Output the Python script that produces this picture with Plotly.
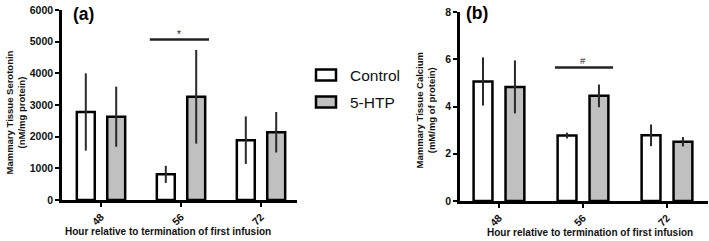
import plotly.graph_objects as go

# ---------------- data ----------------
hours = ["48", "56", "72"]
series_names = ["Control", "5-HTP"]

serotonin_control = [2780, 810, 1890]
serotonin_control_err = [1220, 270, 750]
serotonin_htp = [2630, 3260, 2140]
serotonin_htp_err = [950, 1480, 640]

calcium_control = [5.06, 2.77, 2.78]
calcium_control_err = [1.02, 0.12, 0.46]
calcium_htp = [4.83, 4.45, 2.51]
calcium_htp_err = [1.12, 0.48, 0.20]

serotonin_ticks = [0, 1000, 2000, 3000, 4000, 5000, 6000]
calcium_ticks = [0, 2, 4, 6, 8]

# ---------------- style ----------------
W, H = 709, 241
FILL = {"Control": "white", "5-HTP": "#c0c0c0"}
FONT = "Liberation Sans, Arial, Helvetica, sans-serif"


def px(x):
    return x / W


def py(y):
    return 1 - y / H


fig = go.Figure()

panels = [
    ("x", "y", [serotonin_control, serotonin_htp], [serotonin_control_err, serotonin_htp_err]),
    ("x2", "y2", [calcium_control, calcium_htp], [calcium_control_err, calcium_htp_err]),
]

for xa, ya, vals, errs in panels:
    for name, v, e in zip(series_names, vals, errs):
        fig.add_trace(go.Bar(
            x=hours, y=v, name=name, xaxis=xa, yaxis=ya,
            marker=dict(color=FILL[name], line=dict(color="black", width=2.5)),
            error_y=dict(type="data", array=e, visible=True, color="#2a2a2a",
                         thickness=2, width=0),
            showlegend=False,
        ))

axis_common = dict(
    showline=True, linecolor="black", linewidth=2.5, ticks="outside",
    ticklen=4, tickwidth=2, tickcolor="black", showgrid=False, zeroline=False,
    automargin=False,
    tickfont=dict(family=FONT, size=10.5, color="#111", weight="bold"),
)

fig.update_layout(
    width=W, height=H,
    margin=dict(l=0, r=0, t=0, b=0, autoexpand=False),
    paper_bgcolor="white", plot_bgcolor="white",
    barmode="group", bargap=0.24, bargroupgap=0.41,
    showlegend=False,
    xaxis=dict(domain=[px(62), px(297)], anchor="y", type="category",
               range=[-0.4875, 2.45], tickangle=-45, **axis_common),
    yaxis=dict(domain=[1 - 200 / H, 1 - 10 / H], anchor="x", range=[0, 6000],
               tickvals=serotonin_ticks, **axis_common),
    xaxis2=dict(domain=[px(460), px(708)], anchor="y2", type="category",
                range=[-0.464, 2.488], tickangle=-45, **axis_common),
    yaxis2=dict(domain=[1 - 201 / H, 1 - 12 / H], anchor="x2", range=[0, 8],
                tickvals=calcium_ticks, **axis_common),
)

# significance bars
fig.add_shape(type="line", xref="x", yref="y", x0=0.61, x1=1.35, y0=5070, y1=5070,
              line=dict(color="#222", width=2.5))
fig.add_annotation(xref="x", yref="y", x=0.975, y=5070, text="*", showarrow=False,
                   yanchor="bottom", yshift=-3,
                   font=dict(family=FONT, size=10, color="#222"))
fig.add_shape(type="line", xref="x2", yref="y2", x0=0.667, x1=1.357, y0=5.65, y1=5.65,
              line=dict(color="#222", width=2.5))
fig.add_annotation(xref="x2", yref="y2", x=1.0, y=5.65, text="#", showarrow=False,
                   yanchor="bottom", yshift=0,
                   font=dict(family=FONT, size=9.5, color="#222"))

# panel labels
fig.add_annotation(xref="paper", yref="paper", x=px(71), y=py(14), text="(a)",
                   showarrow=False, xanchor="left", yanchor="middle",
                   font=dict(family=FONT, size=17.5, color="black", weight="bold"))
fig.add_annotation(xref="paper", yref="paper", x=px(464), y=py(13), text="(b)",
                   showarrow=False, xanchor="left", yanchor="middle",
                   font=dict(family=FONT, size=17.5, color="black", weight="bold"))

# axis titles
title_font = dict(family=FONT, size=9.5, color="#111", weight="bold")
fig.add_annotation(xref="paper", yref="paper", x=px(14.5), y=py(113),
                   text="Mammary Tissue Serotonin<br>(nM/mg protein)", textangle=-90,
                   showarrow=False, xanchor="center", yanchor="middle", font=title_font)
fig.add_annotation(xref="paper", yref="paper", x=px(425.5), y=py(110),
                   text="Mammary Tissue Calcium<br>(mM/mg of protein)", textangle=-90,
                   showarrow=False, xanchor="center", yanchor="middle", font=title_font)
xt_font = dict(family=FONT, size=10, color="#111", weight="bold")
fig.add_annotation(xref="paper", yref="paper", x=px(168), y=py(231),
                   text="Hour relative to termination of first infusion",
                   showarrow=False, xanchor="center", yanchor="middle", font=xt_font)
fig.add_annotation(xref="paper", yref="paper", x=px(589.5), y=py(232),
                   text="Hour relative to termination of first infusion",
                   showarrow=False, xanchor="center", yanchor="middle", font=xt_font)

# legend (drawn manually)
legend_rows = [75, 102]
for name, yc in zip(series_names, legend_rows):
    fig.add_shape(type="rect", xref="paper", yref="paper",
                  x0=px(316), x1=px(336), y0=py(yc - 5.5), y1=py(yc + 5.5),
                  fillcolor=FILL[name], line=dict(color="black", width=2.5))
    fig.add_annotation(xref="paper", yref="paper", x=px(348), y=py(yc), text=name,
                       showarrow=False, xanchor="left", yanchor="middle",
                       font=dict(family=FONT, size=15.5, color="#111"))

fig.write_html("out.html", config={"displayModeBar": False},
               post_script="document.body.style.margin='0';document.body.style.overflow='hidden';")
